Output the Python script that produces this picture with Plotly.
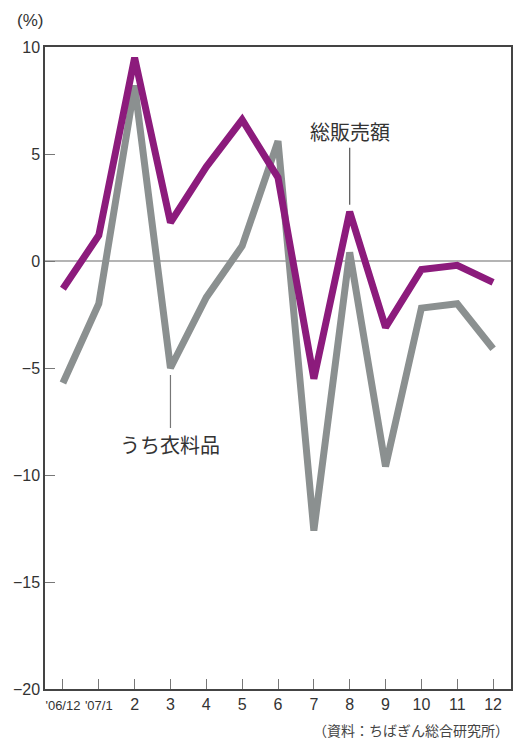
import plotly.graph_objects as go

# Monthly year-on-year change (%)
months = ["'06/12", "'07/1", "2", "3", "4", "5", "6", "7", "8", "9", "10", "11", "12"]
total_sales = [-1.3, 1.2, 9.5, 1.8, 4.4, 6.6, 3.9, -5.5, 2.3, -3.1, -0.4, -0.2, -1.0]
clothing = [-5.7, -2.0, 8.2, -5.0, -1.7, 0.7, 5.6, -12.6, 0.4, -9.6, -2.2, -2.0, -4.1]

y_ticks = [10, 5, 0, -5, -10, -15, -20]
y_ticktext = ["10", "5", "0", "−5", "−10", "−15", "−20"]

x = list(range(len(months)))
font_main = "Liberation Sans, Arial, sans-serif"
font_jp = "Noto Sans CJK JP, sans-serif"

tick_text = [
    f"<span style='font-size:13px'>{m}</span>" if m.startswith("'") else m
    for m in months
]

fig = go.Figure()
fig.add_trace(go.Scatter(
    x=x, y=clothing, mode="lines", name="うち衣料品",
    line=dict(color="#8b9090", width=7), showlegend=False,
))
fig.add_trace(go.Scatter(
    x=x, y=total_sales, mode="lines", name="総販売額",
    line=dict(color="#8c1b7c", width=7), showlegend=False,
))

# zero reference line
fig.add_shape(type="line", xref="paper", x0=0, x1=1, yref="y", y0=0, y1=0,
              line=dict(color="#6b6b6b", width=1.2), layer="below")

# callout labels
fig.add_annotation(x=8, y=total_sales[8], ax=0, ay=-64, axref="pixel", ayref="pixel",
                   text="総販売額", showarrow=True, arrowhead=0, arrowwidth=1.2,
                   arrowcolor="#555", standoff=7,
                   font=dict(family=font_jp, size=20, color="#333"), yanchor="bottom")
fig.add_annotation(x=3, y=clothing[3], ax=0, ay=60, axref="pixel", ayref="pixel",
                   text="うち衣料品", showarrow=True, arrowhead=0, arrowwidth=1.2,
                   arrowcolor="#777", standoff=7,
                   font=dict(family=font_jp, size=20, color="#333"), yanchor="top")

# unit label and source
fig.add_annotation(xref="paper", yref="paper", x=-0.064, y=1.0, yshift=27,
                   text="(%)", showarrow=False, xanchor="left", yanchor="middle",
                   font=dict(family=font_main, size=17, color="#333"))
fig.add_annotation(xref="paper", yref="paper", x=1.0, y=0, yshift=-29,
                   text="（資料：ちばぎん総合研究所）", showarrow=False,
                   xanchor="right", yanchor="top",
                   font=dict(family=font_jp, size=14, color="#444"))

fig.update_layout(
    width=515, height=741,
    margin=dict(l=45, r=2, t=47, b=52),
    paper_bgcolor="white", plot_bgcolor="white",
    font=dict(family=font_main, color="#333"),
    xaxis=dict(
        range=[-0.5, 12.5], tickmode="array", tickvals=x, ticktext=tick_text,
        ticks="inside", ticklen=10, tickcolor="#777", tickwidth=1.2,
        showgrid=False, zeroline=False, showline=True, linecolor="#444",
        linewidth=1.5, mirror=True, tickfont=dict(size=16, color="#333"),
    ),
    yaxis=dict(
        range=[-20, 10], tickmode="array", tickvals=y_ticks, ticktext=y_ticktext,
        ticks="inside", ticklen=10, tickcolor="#777", tickwidth=1.2,
        showgrid=False, zeroline=False, showline=True, linecolor="#444",
        linewidth=1.5, mirror=True, tickfont=dict(size=16, color="#333"),
    ),
)

fig.write_html("out.html")
